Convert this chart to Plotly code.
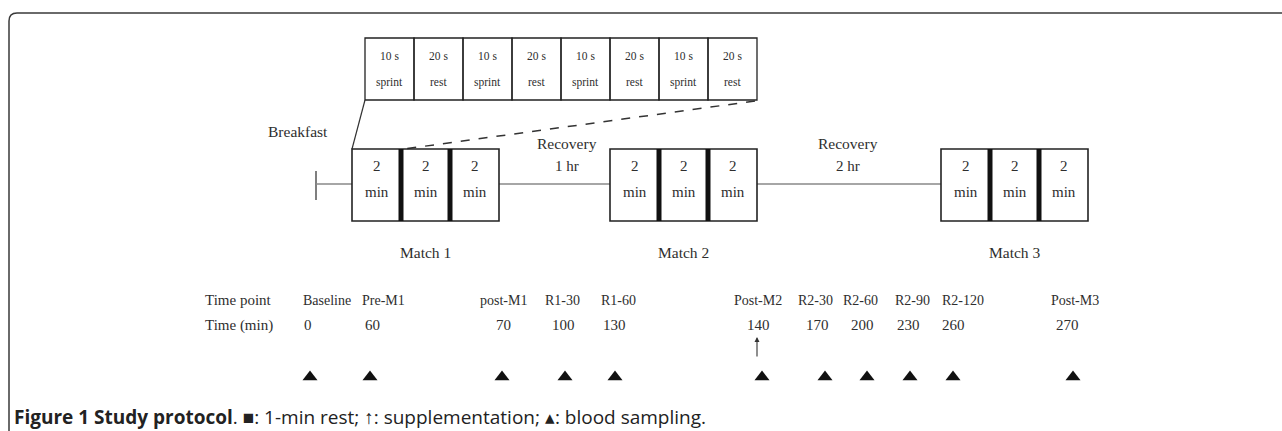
import plotly.graph_objects as go

# ---- data ----
sprint_top = ["10 s", "20 s", "10 s", "20 s", "10 s", "20 s", "10 s", "20 s"]
sprint_bottom = ["sprint", "rest", "sprint", "rest", "sprint", "rest", "sprint", "rest"]
matches = ["Match 1", "Match 2", "Match 3"]
block_minutes = ["2", "2", "2"]
recoveries = ["1 hr", "2 hr"]
time_points = ["Baseline", "Pre-M1", "post-M1", "R1-30", "R1-60", "Post-M2",
               "R2-30", "R2-60", "R2-90", "R2-120", "Post-M3"]
time_minutes = ["0", "60", "70", "100", "130", "140", "170", "200", "230", "260", "270"]
supplement_at = "Post-M2"
caption_bold = "Figure 1 Study protocol"
caption_rest = ". \u25a0: 1-min rest; \u2191: supplementation; \u25b4: blood sampling."

# ---- layout (pixel positions on the canvas) ----
W, H = 1282, 431
table_x0, table_y0, table_y1, cell_w = 365, 38, 100, 49
match_x0 = [352, 610, 941]
match_w = 147
box_y0, box_y1 = 149, 221
line_y = 184
label_cx = [327, 383, 503, 562, 618, 758, 815, 860, 912, 963, 1075]
num_cx = [308, 372, 503, 563, 614, 758, 817, 862, 908, 953, 1067]
tri_x = [310, 370, 502, 565, 615, 762, 825, 867, 910, 953, 1073]
row_label_y, row_num_y, tri_y = 300, 325, 377

SERIF = "Liberation Serif, Times New Roman, serif"
TXT = "#2e2e2e"

fig = go.Figure()
shapes = []
ann = []

def text(x, y, s, size, xanchor="center", font=SERIF, color=TXT):
    ann.append(dict(x=x, y=y, text=s, showarrow=False, xanchor=xanchor, yanchor="middle",
                    font=dict(family=font, size=size, color=color)))

# outer frame with rounded top-left corner
shapes.append(dict(type="path", path=f"M 9,{H+5} L 9,21 Q 9,13 17,13 L {W+5},13",
                   line=dict(color="#3a3a3a", width=1.5)))

# sprint table
for i, (t, b) in enumerate(zip(sprint_top, sprint_bottom)):
    x0 = table_x0 + i * cell_w
    shapes.append(dict(type="rect", x0=x0, x1=x0 + cell_w, y0=table_y0, y1=table_y1,
                       line=dict(color="#222", width=1.3)))
    text(x0 + cell_w / 2, 56, t, 11.5)
    text(x0 + cell_w / 2, 82, b, 11.5)
table_x1 = table_x0 + cell_w * len(sprint_top)

# zoom lines from table to first match block
shapes.append(dict(type="line", x0=table_x0, y0=table_y1, x1=match_x0[0], y1=box_y0,
                   line=dict(color="#333", width=1.2)))
shapes.append(dict(type="line", x0=table_x1 - 2, y0=table_y1 + 1, x1=match_x0[0] + match_w / 3 + 3, y1=box_y0,
                   line=dict(color="#333", width=1.5, dash="dash")))

# start tick + connecting lines
shapes.append(dict(type="line", x0=316, x1=316, y0=171, y1=200, line=dict(color="#555", width=1.5)))
shapes.append(dict(type="line", x0=316, x1=match_x0[0], y0=line_y, y1=line_y, line=dict(color="#888", width=1.5)))
for i in range(len(matches) - 1):
    shapes.append(dict(type="line", x0=match_x0[i] + match_w, x1=match_x0[i + 1], y0=line_y, y1=line_y,
                       line=dict(color="#888", width=1.5)))

text(298, 131, "Breakfast", 15.5)

# match blocks
for i, m in enumerate(matches):
    x0 = match_x0[i]
    shapes.append(dict(type="rect", x0=x0, x1=x0 + match_w, y0=box_y0, y1=box_y1,
                       line=dict(color="#222", width=1.6)))
    seg = match_w / len(block_minutes)
    for j, v in enumerate(block_minutes):
        cx = x0 + seg * (j + 0.5)
        text(cx, 166, v, 15)
        text(cx, 192, "min", 15)
        if j > 0:
            xb = x0 + seg * j
            shapes.append(dict(type="rect", x0=xb - 2.5, x1=xb + 2.5, y0=box_y0, y1=box_y1,
                               fillcolor="#111", line=dict(width=0)))
    text(x0 + match_w / 2, 252, m, 15.5)

# recovery labels
for i, r in enumerate(recoveries):
    cx = (match_x0[i] + match_w + match_x0[i + 1]) / 2 + (12 if i == 0 else -1)
    text(cx, 143, "Recovery", 15.5)
    text(cx, 166, r, 15)

# time point table
text(203, row_label_y, "Time point", 15, xanchor="left")
text(203, row_num_y, "Time (min)", 15, xanchor="left")
for lab, mn, lx, nx in zip(time_points, time_minutes, label_cx, num_cx):
    text(lx, row_label_y, lab, 14)
    text(nx, row_num_y, mn, 15)

# supplementation arrow
k = time_points.index(supplement_at)
ann.append(dict(x=tri_x[k] - 5, y=337, ax=tri_x[k] - 5, ay=358, axref="x", ayref="y", xref="x", yref="y",
                text="", showarrow=True, arrowhead=2, arrowsize=0.9, arrowwidth=1.1, arrowcolor="#333"))

# blood sampling markers
fig.add_trace(go.Scatter(x=tri_x, y=[tri_y] * len(tri_x), mode="markers",
                         marker=dict(symbol="triangle-up", size=13, color="#111"),
                         hoverinfo="skip", showlegend=False))

# caption
ann.append(dict(x=12, y=417, xanchor="left", yanchor="middle", showarrow=False,
                text=f"<b>{caption_bold}</b>{caption_rest}",
                font=dict(family="Open Sans, sans-serif", size=19, color="#222")))

fig.update_layout(
    width=W, height=H, margin=dict(l=0, r=0, t=0, b=0),
    paper_bgcolor="white", plot_bgcolor="white",
    xaxis=dict(range=[0, W], visible=False, fixedrange=True),
    yaxis=dict(range=[H, 0], visible=False, fixedrange=True),
    shapes=shapes, annotations=ann, showlegend=False,
)
fig.write_html("out.html", config={"displayModeBar": False},
               post_script="document.body.style.margin='0';document.body.style.overflow='hidden';")
